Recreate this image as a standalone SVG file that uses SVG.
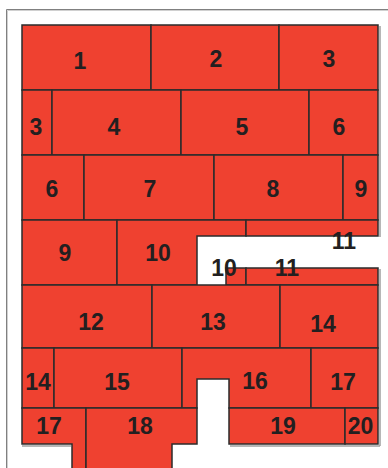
<svg xmlns="http://www.w3.org/2000/svg" width="388" height="468" viewBox="0 0 388 468">
<style>
.p{fill:#ef4130;stroke:#2b2b2b;stroke-width:1.5;stroke-linejoin:miter}
.t{font-family:"Liberation Sans",Arial,sans-serif;font-weight:bold;font-size:23px;fill:#231f20;text-anchor:middle}
.fr{fill:none;stroke:#808080;stroke-width:1}
.fr2{fill:none;stroke:#d0d0d0;stroke-width:1}
</style>
<rect width="388" height="468" fill="#fff"/>
<g id="frame">
<path class="fr" d="M6.5,468 V9.5 H388"/>
<path class="fr2" d="M7.5,468 V10.5 H388"/>
</g>
<g id="shadow">
<path d="M380,26 V237 M380,269 V446 M230,446 H380 M22,446 H71" fill="none" stroke="#a0a0a0" stroke-width="1.5"/>
</g>
<g id="n1"><rect class="p" x="22" y="25" width="129" height="65"/><text class="t" x="80" y="69">1</text></g>
<g id="n2"><rect class="p" x="151" y="25" width="128" height="65"/><text class="t" x="216" y="67">2</text></g>
<g id="n3a"><rect class="p" x="279" y="25" width="99" height="65"/><text class="t" x="329" y="67">3</text></g>
<g id="n3b"><rect class="p" x="22" y="90" width="30" height="65"/><text class="t" x="36" y="135">3</text></g>
<g id="n4"><rect class="p" x="52" y="90" width="129" height="65"/><text class="t" x="114" y="135">4</text></g>
<g id="n5"><rect class="p" x="181" y="90" width="128" height="65"/><text class="t" x="242" y="135">5</text></g>
<g id="n6a"><rect class="p" x="309" y="90" width="69" height="65"/><text class="t" x="339" y="135">6</text></g>
<g id="n6b"><rect class="p" x="22" y="155" width="62" height="65"/><text class="t" x="52" y="197">6</text></g>
<g id="n7"><rect class="p" x="84" y="155" width="130" height="65"/><text class="t" x="150" y="197">7</text></g>
<g id="n8"><rect class="p" x="214" y="155" width="129" height="65"/><text class="t" x="273" y="197">8</text></g>
<g id="n9a"><rect class="p" x="343" y="155" width="35" height="65"/><text class="t" x="361" y="197">9</text></g>
<g id="n9b"><rect class="p" x="22" y="220" width="95" height="65"/><text class="t" x="65" y="261">9</text></g>
<g id="n10a"><polygon class="p" points="117,220 246,220 246,236 197,236 197,285 117,285"/><text class="t" x="158" y="261">10</text></g>
<g id="n10b"><rect class="p" x="226" y="268" width="20" height="17"/></g>
<g id="n11a"><rect class="p" x="246" y="220" width="132" height="16"/><text class="t" x="344" y="249">11</text></g>
<g id="n11b"><rect class="p" x="246" y="268" width="132" height="17"/></g>
<g id="lbl10b"><text class="t" x="224" y="276">10</text></g>
<g id="lbl11b"><text class="t" x="287" y="276">11</text></g>
<g id="n12"><rect class="p" x="22" y="285" width="130" height="63"/><text class="t" x="91" y="330">12</text></g>
<g id="n13"><rect class="p" x="152" y="285" width="128" height="63"/><text class="t" x="213" y="330">13</text></g>
<g id="n14a"><rect class="p" x="280" y="285" width="98" height="63"/><text class="t" x="323" y="332">14</text></g>
<g id="n14b"><rect class="p" x="22" y="348" width="32" height="60"/><text class="t" x="38" y="390">14</text></g>
<g id="n15"><rect class="p" x="54" y="348" width="128" height="60"/><text class="t" x="117" y="390">15</text></g>
<g id="n16"><polygon class="p" points="182,348 311,348 311,408 229,408 229,379 197,379 197,408 182,408"/><text class="t" x="255" y="389">16</text></g>
<g id="n17a"><rect class="p" x="311" y="348" width="67" height="60"/><text class="t" x="343" y="390">17</text></g>
<g id="n17b"><polygon class="p" points="22,408 86,408 86,469 72,469 72,444 22,444"/><text class="t" x="49" y="434">17</text></g>
<g id="n18"><polygon class="p" points="86,408 197,408 197,444 172,444 172,469 86,469"/><text class="t" x="140" y="434">18</text></g>
<g id="n19"><rect class="p" x="229" y="408" width="116" height="36"/><text class="t" x="283" y="434">19</text></g>
<g id="n20"><rect class="p" x="345" y="408" width="33" height="36"/><text class="t" x="360.5" y="434">20</text></g>
</svg>
